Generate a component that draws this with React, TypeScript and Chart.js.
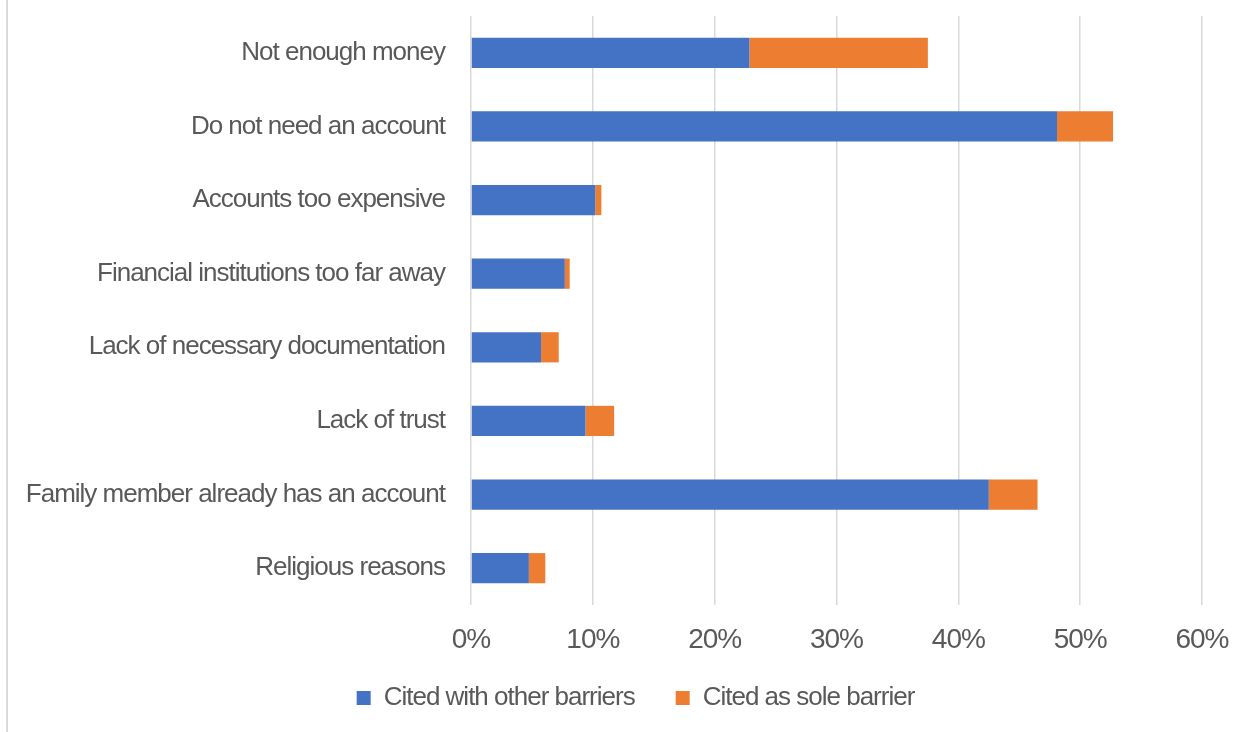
import React, { useEffect, useRef } from "react";
import { Chart, registerables } from "chart.js";

Chart.register(...registerables);

const categories = [
  "Not enough money",
  "Do not need an account",
  "Accounts too expensive",
  "Financial institutions too far away",
  "Lack of necessary documentation",
  "Lack of trust",
  "Family member already has an account",
  "Religious reasons",
];
const seriesNames = ["Cited with other barriers", "Cited as sole barrier"];
const citedWithOthers = [22.85, 48.1, 10.2, 7.7, 5.75, 9.4, 42.5, 4.75];
const citedAsSole = [14.65, 4.6, 0.5, 0.4, 1.45, 2.35, 4.0, 1.35];
const xTicks = [0, 10, 20, 30, 40, 50, 60];

const FONT = "'Liberation Sans Narrow', 'Liberation Sans', Arial, sans-serif";
const TEXT = "#595959";
const GRID = "#d9d9d9";
const PAD_LEFT = 69;
const PAD_RIGHT = 42;

const tightText = {
  id: "tightText",
  beforeUpdate(chart: any) {
    chart.ctx.letterSpacing = "-1px";
  },
  beforeDraw(chart: any) {
    chart.ctx.letterSpacing = "-1px";
  },
  afterLayout(chart: any) {
    // let tick labels extend beyond their scale boxes (no clipping)
    const y = chart.scales.y;
    const x = chart.scales.x;
    if (y) y.left = 0;
    if (x) x.bottom = chart.height;
  },
};

export default function App() {
  const ref = useRef<HTMLCanvasElement | null>(null);
  useEffect(() => {
    if (!ref.current) return;
    const chart = new Chart(ref.current, {
      type: "bar",
      data: {
        labels: categories,
        datasets: [
          {
            label: seriesNames[0],
            data: citedWithOthers,
            backgroundColor: "#4472C4",
            borderWidth: 0,
            barPercentage: 0.41,
            categoryPercentage: 1,
          },
          {
            label: seriesNames[1],
            data: citedAsSole,
            backgroundColor: "#ED7D31",
            borderWidth: 0,
            barPercentage: 0.41,
            categoryPercentage: 1,
          },
        ],
      },
      plugins: [tightText],
      options: {
        indexAxis: "y",
        responsive: false,
        animation: false,
        maintainAspectRatio: false,
        layout: { padding: { left: PAD_LEFT, right: PAD_RIGHT, top: 16, bottom: 11 } },
        plugins: {
          tooltip: { enabled: false },
          legend: {
            position: "bottom",
            labels: {
              boxWidth: 14,
              boxHeight: 14,
              padding: 41,
              color: TEXT,
              font: { family: FONT, size: 26 },
            },
          },
        },
        scales: {
          x: {
            stacked: true,
            min: 0,
            max: 60,
            afterBuildTicks: (scale: any) => {
              scale.ticks = xTicks.map((v) => ({ value: v }));
            },
            afterFit: (scale: any) => {
              scale.height = 39;
              scale.paddingLeft = 0;
              scale.paddingRight = 0;
            },
            grid: { color: GRID, lineWidth: 1.5, drawTicks: false },
            border: { display: false },
            ticks: {
              color: TEXT,
              padding: 18,
              maxRotation: 0,
              autoSkip: false,
              font: { family: FONT, size: 28 },
              callback: (v: any) => v + "%",
            },
          },
          y: {
            stacked: true,
            afterFit: (scale: any) => {
              scale.width = 471 - PAD_LEFT;
              scale.paddingTop = 0;
              scale.paddingBottom = 0;
            },
            grid: { display: false, drawTicks: false },
            border: { display: false },
            ticks: {
              color: TEXT,
              padding: 26,
              autoSkip: false,
              font: { family: FONT, size: 26 },
            },
          },
        },
      },
    });
    return () => chart.destroy();
  }, []);

  return (
    <div style={{ position: "fixed", left: 0, top: 0, width: 1244, height: 732, background: "#fff", overflow: "hidden" }}>
      <div style={{ position: "absolute", left: 6, top: 0, width: 2, height: 732, background: GRID }} />
      <canvas ref={ref} width={1244} height={732} style={{ position: "absolute", left: 0, top: 0, display: "block" }} />
    </div>
  );
}
